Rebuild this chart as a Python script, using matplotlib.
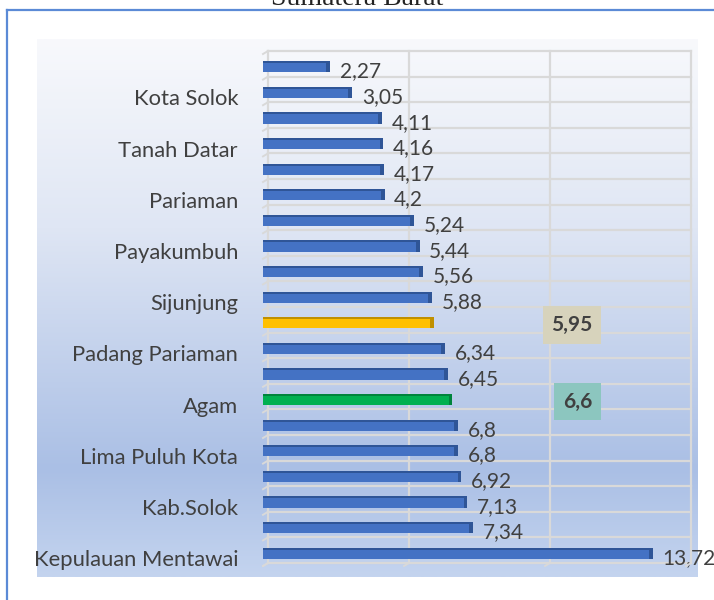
import matplotlib
matplotlib.use("Agg")
import matplotlib.pyplot as plt
import numpy as np
from matplotlib.colors import LinearSegmentedColormap
from matplotlib.transforms import ScaledTranslation
from matplotlib.lines import Line2D

# ---------------- data ----------------
categories = ["", "Kota Solok", "", "Tanah Datar", "", "Pariaman", "", "Payakumbuh",
              "", "Sijunjung", "", "Padang Pariaman", "", "Agam", "", "Lima Puluh Kota",
              "", "Kab.Solok", "", "Kepulauan Mentawai"]
values = [2.27, 3.05, 4.11, 4.16, 4.17, 4.2, 5.24, 5.44, 5.56, 5.88, 5.95,
          6.34, 6.45, 6.6, 6.8, 6.8, 6.92, 7.13, 7.34, 13.72]
highlight = {10: "gold", 13: "green"}   # index -> highlight kind
title = "Sumatera Barat"

W, H = 714, 600
fig = plt.figure(figsize=(W / 100, H / 100), dpi=100)
fig.patch.set_facecolor("white")

# outer border (blue)
fig.add_artist(Line2D([6.5 / W, 6.5 / W], [0, 1 - 10 / H], color="#5b8ad6", lw=1.6,
                      transform=fig.transFigure))
fig.add_artist(Line2D([6.5 / W, 1], [1 - 10 / H, 1 - 10 / H], color="#5b8ad6", lw=1.6,
                      transform=fig.transFigure))

# title (partly cut off at top, as in the source)
fig.text(357 / W, 1 - 5 / H, title, ha="center", va="baseline",
         family="Liberation Serif", fontsize=20, color="#222222")

# gradient plot area
bg = fig.add_axes([37 / W, 1 - 577 / H, 661 / W, 538 / H])
cmap = LinearSegmentedColormap.from_list(
    "g", [(0.0, "#f8f9fc"), (0.35, "#dfe6f4"), (0.8, "#aabfe5"), (1.0, "#c4d4ef")])
grad = np.linspace(0, 1, 256).reshape(-1, 1)
bg.imshow(grad, aspect="auto", cmap=cmap, extent=[0, 1, 1, 0])
bg.set_axis_off()

# main axes
ax = fig.add_axes([263 / W, 1 - 566 / H, (686 - 263) / W, (566 - 54) / H])
ax.set_facecolor("none")
n = len(values)
y = np.arange(n)
ax.set_xlim(0, 15)
ax.set_ylim(n - 0.5, -0.5)

# back-wall grid with 3D offset
off = ScaledTranslation(5 / 100, 3 / 100, fig.dpi_scale_trans)
gc = "#d9d9d9"
for b in np.arange(-0.5, n, 1.0):
    ax.plot([0, 15], [b, b], color=gc, lw=1.6, transform=ax.transData + off,
            clip_on=False, zorder=1)
for xv in [0, 5, 10, 15]:
    ax.plot([xv, xv], [-0.5, n - 0.5], color=gc, lw=1.6, transform=ax.transData + off,
            clip_on=False, zorder=1)
# depth diagonals
for b in np.arange(-0.5, n, 1.0):
    p0 = ax.transData.transform((0, b))
    p1 = (ax.transData + off).transform((0, b))
    fig.add_artist(Line2D([p0[0] / W, p1[0] / W], [p0[1] / H, p1[1] / H],
                          color=gc, lw=1.4, transform=fig.transFigure))
for xv in [0, 5, 10, 15]:
    p0 = ax.transData.transform((xv, n - 0.5))
    p1 = (ax.transData + off).transform((xv, n - 0.5))
    fig.add_artist(Line2D([p0[0] / W, p1[0] / W], [p0[1] / H, p1[1] / H],
                          color=gc, lw=1.4, transform=fig.transFigure))

# bars with simple 3D look
bh = 0.44
colors = {"blue": ("#4472c4", "#2f5597"), "gold": ("#ffc000", "#c09000"),
          "green": ("#00b050", "#00843c")}
for i, v in enumerate(values):
    kind = highlight.get(i, "blue")
    face, dark = colors[kind]
    ax.barh(i, v, height=bh, color=face, zorder=3)
    ax.barh(i - bh / 2 + 0.04, v, height=0.08, color=dark, zorder=4)
    ax.barh(i, 0.13, left=v - 0.02, height=bh, color=dark, zorder=4)

# data labels
lab_font = dict(family="Lato", fontsize=15, color="#404040")
for i, v in enumerate(values):
    txt = f"{v:g}".replace(".", ",")
    if i in highlight:
        kind = highlight[i]
        boxc = "#d7d3bc" if kind == "gold" else "#8cc6bf"
        xpos = 10.96 if kind == "gold" else 11.15
        ax.text(xpos, i + 0.08, txt, ha="center", va="center", fontweight="bold",
                zorder=6, bbox=dict(boxstyle="square,pad=0.42", fc=boxc, ec="none"),
                **lab_font)
    else:
        ax.text(v + 0.45, i + 0.18, txt, ha="left", va="center", zorder=6, **lab_font)

# category labels
ax.set_yticks(y)
ax.set_yticklabels(categories, family="Lato", fontsize=15.8, color="#404040")
ax.tick_params(axis="y", length=0, pad=18)
down = ScaledTranslation(0, -5 / 100, fig.dpi_scale_trans)
for lbl in ax.get_yticklabels():
    lbl.set_transform(lbl.get_transform() + down)
ax.set_xticks([])
for s in ax.spines.values():
    s.set_visible(False)

fig.savefig("out.png", dpi=100)
